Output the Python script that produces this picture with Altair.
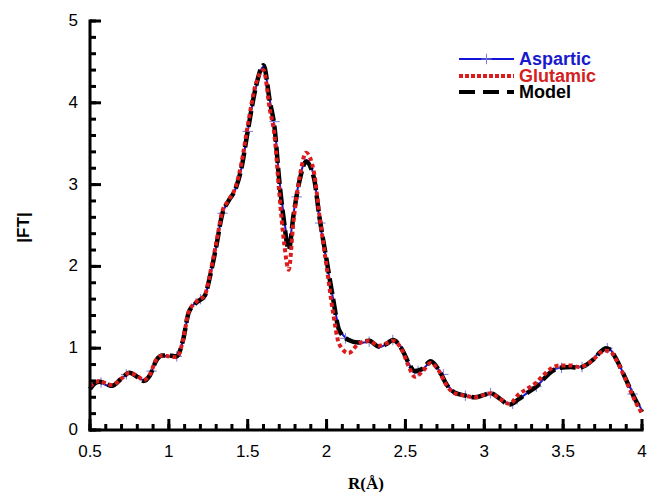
import altair as alt
import pandas as pd

# ---------------- data ----------------
R = [0.50, 0.53, 0.56, 0.60, 0.64, 0.70, 0.75, 0.80, 0.84, 0.88,
     0.92, 0.96, 1.00, 1.05, 1.09, 1.125, 1.17, 1.23, 1.26, 1.30,
     1.34, 1.375, 1.425, 1.46, 1.50, 1.55, 1.60, 1.64, 1.67, 1.70,
     1.73, 1.76, 1.79, 1.83, 1.87, 1.92, 1.955, 2.00, 2.04, 2.08,
     2.14, 2.20, 2.27, 2.33, 2.38, 2.42, 2.48, 2.52, 2.56, 2.61,
     2.66, 2.71, 2.76, 2.81, 2.88, 2.94, 3.00, 3.04, 3.10, 3.16,
     3.22, 3.27, 3.33, 3.37, 3.43, 3.48, 3.55, 3.60, 3.65, 3.69,
     3.74, 3.77, 3.80, 3.83, 3.90, 3.95, 4.00]

model = [0.50, 0.57, 0.59, 0.56, 0.54, 0.63, 0.70, 0.65, 0.60, 0.67,
         0.85, 0.91, 0.91, 0.90, 1.10, 1.43, 1.55, 1.65, 1.87, 2.24,
         2.65, 2.79, 2.96, 3.20, 3.65, 4.18, 4.46, 4.02, 3.70, 3.05,
         2.55, 2.20, 2.62, 3.06, 3.28, 3.08, 2.60, 2.08, 1.62, 1.22,
         1.10, 1.07, 1.09, 1.02, 1.05, 1.10, 0.98, 0.82, 0.72, 0.75,
         0.84, 0.74, 0.56, 0.46, 0.42, 0.40, 0.43, 0.45, 0.38, 0.31,
         0.38, 0.45, 0.53, 0.61, 0.72, 0.76, 0.77, 0.76, 0.80, 0.86,
         0.96, 1.00, 0.98, 0.89, 0.61, 0.40, 0.22]

aspartic = [0.52, 0.57, 0.58, 0.55, 0.53, 0.63, 0.69, 0.65, 0.61, 0.68,
            0.85, 0.91, 0.90, 0.90, 1.10, 1.43, 1.56, 1.65, 1.87, 2.24,
            2.65, 2.79, 2.96, 3.20, 3.65, 4.17, 4.44, 4.03, 3.72, 3.08,
            2.60, 2.26, 2.64, 3.08, 3.30, 3.10, 2.58, 2.06, 1.62, 1.24,
            1.10, 1.06, 1.08, 1.01, 1.05, 1.10, 0.99, 0.82, 0.70, 0.74,
            0.83, 0.74, 0.57, 0.46, 0.42, 0.40, 0.43, 0.44, 0.38, 0.32,
            0.38, 0.45, 0.53, 0.61, 0.73, 0.76, 0.77, 0.77, 0.80, 0.87,
            0.97, 1.00, 0.98, 0.89, 0.62, 0.42, 0.24]

glutamic = [0.53, 0.58, 0.60, 0.57, 0.55, 0.63, 0.70, 0.66, 0.61, 0.68,
            0.86, 0.91, 0.90, 0.89, 1.10, 1.44, 1.56, 1.66, 1.90, 2.28,
            2.68, 2.80, 2.98, 3.26, 3.72, 4.22, 4.40, 3.92, 3.60, 2.90,
            2.30, 1.96, 2.55, 3.10, 3.39, 3.15, 2.62, 2.00, 1.45, 1.05,
            0.94, 1.05, 1.09, 1.03, 1.06, 1.09, 0.97, 0.78, 0.65, 0.72,
            0.82, 0.73, 0.55, 0.45, 0.42, 0.40, 0.43, 0.45, 0.38, 0.32,
            0.44, 0.50, 0.58, 0.66, 0.76, 0.79, 0.79, 0.77, 0.80, 0.86,
            0.95, 0.97, 0.96, 0.88, 0.60, 0.38, 0.20]

marker_R = [0.57, 0.73, 0.89, 1.05, 1.20, 1.34, 1.50, 1.67, 1.81, 1.96,
            2.12, 2.27, 2.42, 2.58, 2.74, 2.88, 3.04, 3.18, 3.33, 3.49,
            3.62, 3.78, 3.94]
marker_FT = [0.58, 0.68, 0.72, 0.90, 1.60, 2.65, 3.65, 3.77, 2.85, 2.53,
             1.12, 1.08, 1.10, 0.72, 0.68, 0.42, 0.45, 0.32, 0.53, 0.76,
             0.77, 1.00, 0.44]

x_major = [0.5, 1.0, 1.5, 2.0, 2.5, 3.0, 3.5, 4.0]
x_minor = [round(0.5 + 0.1 * i, 2) for i in range(36)]
y_major = [0, 1, 2, 3, 4, 5]
y_minor = [round(0.2 * i, 2) for i in range(26)]

legend_names = ["Aspartic", "Glutamic", "Model"]
x_title = "R(Å)"
y_title = "|FT|"

# ---------------- chart ----------------
W, H = 552, 409
X0, X1, Y0, Y1 = 0.5, 4.0, 0.0, 5.0
PX_X = W / (X1 - X0)
PX_Y = H / (Y1 - Y0)
FONT = "Liberation Sans"

df = pd.DataFrame({"R": R, "Model": model, "Aspartic": aspartic, "Glutamic": glutamic})
mk = pd.DataFrame({"R": marker_R, "FT": marker_FT})
one = pd.DataFrame({"k": [0]})

xs = alt.Scale(domain=[X0, X1], nice=False, zero=False, padding=0)
ys = alt.Scale(domain=[Y0, Y1], nice=False, zero=False, padding=0)


def X(field, **kw):
    return alt.X(field, scale=xs, axis=None, **kw)


def Y(field, **kw):
    return alt.Y(field, scale=ys, axis=None, **kw)


base = alt.Chart(df)

asp_line = base.mark_line(color="#1414d6", strokeWidth=2, interpolate="monotone").encode(
    x=X("R:Q"), y=Y("Aspartic:Q"))
asp_marks = alt.Chart(mk).mark_point(
    shape="M-1,0L1,0M0,-1L0,1", size=110, color="#7b7bdc", strokeWidth=1, filled=False,
    opacity=1).encode(x=X("R:Q"), y=Y("FT:Q"))
model_line = base.mark_line(color="black", strokeWidth=4.5, strokeDash=[16, 5],
                            interpolate="monotone").encode(x=X("R:Q"), y=Y("Model:Q"))
glu_line = base.mark_line(color="#dc1c1c", strokeWidth=4, strokeDash=[4, 3],
                          interpolate="monotone").encode(x=X("R:Q"), y=Y("Glutamic:Q"))


# inward ticks, drawn through the scales
def xticks(vals, length):
    d = pd.DataFrame({"v": vals, "a": [Y0] * len(vals), "b": [Y0 + length / PX_Y] * len(vals)})
    return alt.Chart(d).mark_rule(color="black", strokeWidth=3).encode(
        x=X("v:Q"), y=Y("a:Q"), y2="b:Q")


def yticks(vals, length):
    d = pd.DataFrame({"v": vals, "a": [X0] * len(vals), "b": [X0 + length / PX_X] * len(vals)})
    return alt.Chart(d).mark_rule(color="black", strokeWidth=3).encode(
        y=Y("v:Q"), x=X("a:Q"), x2="b:Q")


ticks = [xticks(x_minor, 6), xticks(x_major, 11), yticks(y_minor, 6), yticks(y_major, 11)]

# axis lines
xdom = pd.DataFrame({"a": [X0], "b": [X1], "y": [Y0]})
ydom = pd.DataFrame({"a": [Y0], "b": [Y1], "x": [X0]})
domain = [
    alt.Chart(xdom).mark_rule(color="black", strokeWidth=3, strokeCap="square").encode(
        x=X("a:Q"), x2="b:Q", y=Y("y:Q")),
    alt.Chart(ydom).mark_rule(color="black", strokeWidth=3, strokeCap="square").encode(
        y=Y("a:Q"), y2="b:Q", x=X("x:Q")),
]

xlabels = alt.Chart(pd.DataFrame({"v": x_major})).mark_text(
    font=FONT, fontSize=17, color="black", align="center", baseline="middle"
).encode(x=X("v:Q"), y=alt.value(H + 22), text=alt.Text("v:Q", format="~g"))

ylabels = alt.Chart(pd.DataFrame({"v": y_major})).mark_text(
    font=FONT, fontSize=17, color="black", align="right", baseline="middle"
).encode(y=Y("v:Q"), x=alt.value(-12), text=alt.Text("v:Q", format="~g"))

xtitle = alt.Chart(one).mark_text(
    text=x_title, font="Liberation Serif", fontSize=17, fontWeight="bold", color="black",
    align="center", baseline="middle").encode(x=alt.value(W / 2), y=alt.value(H + 54))

ytitle = alt.Chart(one).mark_text(
    text=y_title, font=FONT, fontSize=17, fontWeight="bold", color="black",
    align="center", baseline="middle", angle=270).encode(x=alt.value(-66), y=alt.value(H / 2 + 2))

# ---- manual legend ----
leg_y = [38, 55, 71]
leg_x0, leg_x1, leg_tx = 369, 424, 429
legend_layers = [
    alt.Chart(one).mark_rule(color="#1414d6", strokeWidth=2).encode(
        x=alt.value(leg_x0), x2=alt.value(leg_x1), y=alt.value(leg_y[0])),
    alt.Chart(one).mark_point(shape="M-1,0L1,0M0,-1L0,1", size=110, color="#7b7bdc",
                              strokeWidth=1, filled=False, opacity=1).encode(
        x=alt.value((leg_x0 + leg_x1) / 2), y=alt.value(leg_y[0])),
    alt.Chart(one).mark_rule(color="#dc1c1c", strokeWidth=4, strokeDash=[4, 2]).encode(
        x=alt.value(leg_x0), x2=alt.value(leg_x1), y=alt.value(leg_y[1])),
    alt.Chart(one).mark_rule(color="black", strokeWidth=4, strokeDash=[16, 8]).encode(
        x=alt.value(leg_x0), x2=alt.value(leg_x1), y=alt.value(leg_y[2])),
]
leg_colors = ["#1a1acc", "#d42020", "black"]
for name, yy, c in zip(legend_names, leg_y, leg_colors):
    legend_layers.append(
        alt.Chart(one).mark_text(text=name, align="left", baseline="middle", font=FONT,
                                 fontSize=18, fontWeight="bold", color=c).encode(
            x=alt.value(leg_tx), y=alt.value(yy + 1)))

chart = alt.layer(asp_line, asp_marks, model_line, glu_line, *ticks, *domain,
                  xlabels, ylabels, xtitle, ytitle, *legend_layers).properties(
    width=W, height=H,
    autosize=alt.AutoSizeParams(type="none"),
    padding={"left": 82, "top": 13, "right": 5, "bottom": 62},
).configure(background="white", view=alt.ViewConfig(strokeOpacity=0))

chart.save("out.html", embed_options={"renderer": "svg", "actions": False})
